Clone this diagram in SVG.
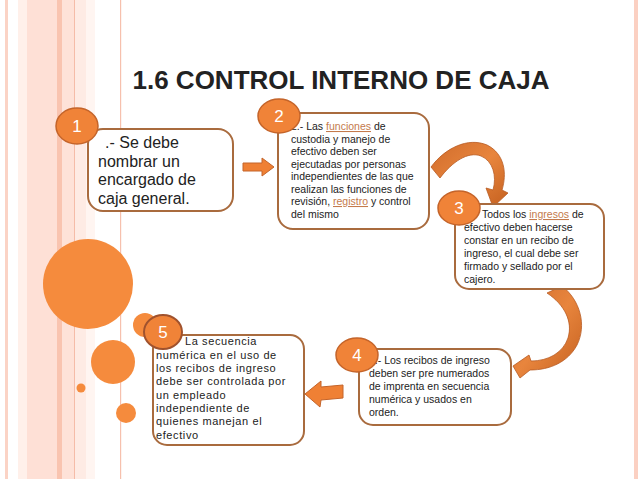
<svg xmlns="http://www.w3.org/2000/svg" width="638" height="479" viewBox="0 0 638 479">
<defs>
<style>
.box{fill:#ffffff;stroke:#a96b3e;stroke-width:2}
.num{fill:#f08338;stroke:#c4642a;stroke-width:1.5}
.numt{font-family:"Liberation Sans",Arial,sans-serif;font-size:17px;fill:#ffffff;text-anchor:middle}
.t{font-family:"Liberation Sans",Arial,sans-serif;fill:#222222}
.lnk{fill:#c47a4c;text-decoration:underline}
.deco{fill:#f58b3d}
.blk{fill:#ef8034;stroke:#c4642a;stroke-width:1}
.crv{fill:url(#g1);stroke:#b85a22;stroke-width:0.8}
</style>
<linearGradient id="g1" x1="0" y1="0" x2="1" y2="1">
<stop offset="0" stop-color="#d06c2c"/>
<stop offset="0.5" stop-color="#e8853d"/>
<stop offset="1" stop-color="#c4601f"/>
</linearGradient>
</defs>
<rect width="638" height="479" fill="#ffffff"/>
<g id="background">
<rect x="5" y="0" width="3" height="479" fill="#fbd3c5"/>
<rect x="18" y="0" width="9" height="479" fill="#fff0ea"/>
<rect x="27" y="0" width="30" height="479" fill="#fee0d6"/>
<rect x="57" y="0" width="5" height="479" fill="#f9c4b0"/>
<rect x="62" y="0" width="12" height="479" fill="#fee2d8"/>
<rect x="74" y="0" width="1" height="479" fill="#f5bca8"/>
<rect x="75" y="0" width="11" height="479" fill="#feebe4"/>
<rect x="86" y="0" width="9" height="479" fill="#fff5f1"/>
<rect x="120" y="0" width="1.2" height="479" fill="#f6c0ad"/>
<rect x="634" y="0" width="4" height="479" fill="#fbd0c2"/>
<circle class="deco" cx="88" cy="284" r="45"/>
<circle class="deco" cx="113" cy="362" r="22"/>
<circle class="deco" cx="81" cy="388" r="4.5"/>
<circle class="deco" cx="126" cy="413" r="10"/>
<circle class="deco" cx="145" cy="325" r="12"/>
</g>
<text class="t" x="341" y="89" font-size="26" font-weight="bold" text-anchor="middle" fill="#111">1.6 CONTROL INTERNO DE CAJA</text>
<g id="connectors">
<polygon class="blk" points="243,163 262,163 262,158 274,167 262,176 262,171 243,171"/>
<path class="crv" d="M 431,167 C 445,148 468,137 487,145 C 505,154 507,174 502,190 L 508,193 L 493,207 L 486,188 L 493,190 C 497,176 493,161 481,156 C 468,151 452,162 440,178 Z"/>
<path class="crv" d="M 547,293 L 562,286 C 580,300 587,325 577,345 C 568,362 550,370 530,370 L 520,378 L 513,366 L 529,355 L 531,361 C 548,361 563,353 568,338 C 573,322 565,305 547,293 Z"/>
<polygon class="blk" points="305,394 321,381 321,387 343,385 343,398 321,400 320,407"/>
</g>
<g id="node1">
<rect class="box" x="88" y="129" width="145" height="82" rx="15"/>
<text class="t" font-size="16"><tspan x="105" y="148">.- Se debe</tspan><tspan x="98" y="166.7">nombrar un</tspan><tspan x="98" y="185.3">encargado de</tspan><tspan x="98" y="204">caja general.</tspan></text>
<ellipse class="num" cx="77" cy="126" rx="21" ry="18"/>
<text class="numt" x="77" y="132">1</text>
</g>
<g id="node2">
<rect class="box" x="278" y="113" width="151" height="116" rx="15"/>
<text class="t" font-size="10.5"><tspan x="291" y="130">2.- Las <tspan class="lnk">funciones</tspan> de</tspan><tspan x="291" y="142.5">custodia y manejo de</tspan><tspan x="291" y="155">efectivo deben ser</tspan><tspan x="291" y="167.5">ejecutadas por personas</tspan><tspan x="291" y="180">independientes de las que</tspan><tspan x="291" y="192.5">realizan las funciones de</tspan><tspan x="291" y="205">revisión, <tspan class="lnk">registro</tspan> y control</tspan><tspan x="291" y="217.5">del mismo</tspan></text>
<ellipse class="num" cx="279" cy="116" rx="21" ry="17"/>
<text class="numt" x="279" y="122">2</text>
</g>
<g id="node3">
<rect class="box" x="455" y="204" width="149" height="85" rx="14"/>
<text class="t" font-size="10.5"><tspan x="482" y="218">Todos los <tspan class="lnk">ingresos</tspan> de</tspan><tspan x="464" y="231">efectivo deben hacerse</tspan><tspan x="464" y="244">constar en un recibo de</tspan><tspan x="464" y="257">ingreso, el cual debe ser</tspan><tspan x="464" y="270">firmado y sellado por el</tspan><tspan x="464" y="282.5">cajero.</tspan></text>
<ellipse class="num" cx="459" cy="208" rx="21" ry="17"/>
<text class="numt" x="459" y="214">3</text>
</g>
<g id="node4">
<rect class="box" x="359" y="349" width="152" height="76" rx="14"/>
<text class="t" font-size="10.5"><tspan x="369" y="364">4.- Los recibos de ingreso</tspan><tspan x="369" y="377">deben ser pre numerados</tspan><tspan x="369" y="390">de imprenta en secuencia</tspan><tspan x="369" y="403">numérica y usados en</tspan><tspan x="369" y="415.5">orden.</tspan></text>
<ellipse class="num" cx="357" cy="355" rx="21" ry="17"/>
<text class="numt" x="357" y="361">4</text>
</g>
<g id="node5">
<rect class="box" x="153" y="335" width="151" height="110" rx="14"/>
<text class="t" font-size="11" letter-spacing="0.6"><tspan x="185" y="345">La secuencia</tspan><tspan x="156" y="358.5">numérica en el uso de</tspan><tspan x="156" y="372">los recibos de ingreso</tspan><tspan x="156" y="385">debe ser controlada por</tspan><tspan x="156" y="398.5">un empleado</tspan><tspan x="156" y="412">independiente de</tspan><tspan x="156" y="425">quienes manejan el</tspan><tspan x="156" y="439">efectivo</tspan></text>
<ellipse class="num" cx="163" cy="332" rx="19" ry="17" style="stroke:#a0522d;stroke-width:2"/>
<text class="numt" x="163" y="338">5</text>
</g>
</svg>
